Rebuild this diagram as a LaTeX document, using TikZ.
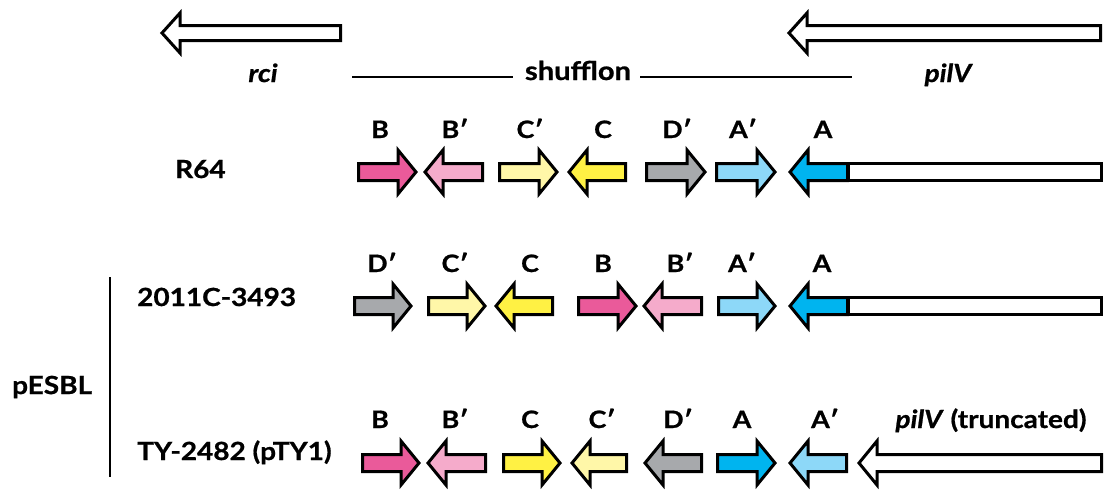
\documentclass[tikz,border=0pt]{standalone}
\usepackage{fontspec}
\setmainfont{Lato}[FakeStretch=1.12,BoldFeatures={FakeBold=0.8},BoldItalicFeatures={FakeBold=0.8}]
\begin{document}
\begin{tikzpicture}[x=1pt,y=-1pt,
  genestyle/.style={draw=black,line width=3pt,line join=miter,miter limit=10},
  seglabel/.style={anchor=base,inner sep=0pt,font=\fontsize{24}{28}\selectfont\bfseries},
  namelabel/.style={anchor=base west,inner sep=0pt,font=\fontsize{25}{30}\selectfont\bfseries},
  genename/.style={anchor=base,inner sep=0pt,font=\fontsize{25}{30}\selectfont\bfseries\itshape},
  bracketline/.style={line width=2pt}]

\definecolor{segB}{HTML}{EA5A9A}
\definecolor{segBp}{HTML}{F5ABCB}
\definecolor{segC}{HTML}{FFF144}
\definecolor{segCp}{HTML}{FFF7A8}
\definecolor{segD}{HTML}{A7A9AC}
\definecolor{segA}{HTML}{00B4EF}
\definecolor{segAp}{HTML}{8DD8F8}

% fill, y, tail x (outer), tip x (outer), head half-height, body half-height
\newcommand\genearrow[6]{%
  \pgfmathsetmacro\gdir{sign(#4-#3)}%
  \pgfmathsetmacro\gtail{#3+1.5*\gdir}%
  \pgfmathsetmacro\gtip{#4-2*\gdir}%
  \pgfmathsetmacro\gbase{\gtip-18*\gdir}%
  \draw[genestyle,fill=#1]
    (\gtail,{#2-#6}) -- (\gbase,{#2-#6}) -- (\gbase,{#2-#5}) -- (\gtip,#2)
    -- (\gbase,{#2+#5}) -- (\gbase,{#2+#6}) -- (\gtail,{#2+#6}) -- cycle;}
\newcommand\seg[4]{\genearrow{#1}{#2}{#3}{#4}{22}{8.5}}

\useasboundingbox (0,0) rectangle (1107,496);

% top: rci and pilV genes
\genearrow{white}{33}{342}{160}{20}{7.5}
\genearrow{white}{33}{1102}{787}{20}{7.5}
\node[genename] (rci) at (263,82) {rci};
\node[genename] (pilV) at (948,82) {pilV};
\node[anchor=base,inner sep=0pt,font=\fontsize{26}{30}\selectfont\bfseries] (shufflon) at (578,80) {shufflon};
\coordinate (shl) at (352,77);
\coordinate (shlend) at (513,77);
\coordinate (shrstart) at (640,77);
\coordinate (shr) at (852,77);
\draw[bracketline] (shl) -- (shlend);
\draw[bracketline] (shrstart) -- (shr);

% R64
\node[namelabel] (r64) at (175,178) {R64};
\seg{segB}{172}{357}{418}
\seg{segBp}{172}{484}{423}
\seg{segCp}{172}{498}{559}
\seg{segC}{172}{627}{567}
\seg{segD}{172}{645}{707}
\seg{segAp}{172}{715}{777}
\draw[genestyle,fill=white] (848,{172-8.5}) rectangle (1101.5,{172+8.5});
\seg{segA}{172}{849}{788}
\foreach \t/\x [count=\i] in {B/380,B′/455,C′/530,C/603,D′/677,A′/743,A/823}
  \node[seglabel] (ra\i) at (\x,138) {\t};

% 2011C-3493
\node[namelabel] (c2011) at (137,306) {2011C-3493};
\seg{segD}{306}{353}{413}
\seg{segCp}{306}{427}{487}
\seg{segC}{306}{554}{494}
\seg{segB}{306}{577}{638}
\seg{segBp}{306}{703}{642}
\seg{segAp}{306}{717}{777}
\draw[genestyle,fill=white] (848,{306-8.5}) rectangle (1101.5,{306+8.5});
\seg{segA}{306}{849}{788}
\foreach \t/\x [count=\i] in {D′/382,C′/455,C/530,B/603,B′/680,A′/742,A/822}
  \node[seglabel] (rb\i) at (\x,272) {\t};

% TY-2482 (pTY1)
\node[namelabel] (ty) at (137,460) {TY-2482 (pTY1)};
\seg{segB}{463}{361}{421}
\seg{segBp}{463}{487}{426}
\seg{segC}{463}{502}{562}
\seg{segCp}{463}{628}{570}
\seg{segD}{463}{703}{643}
\seg{segA}{463}{716}{777}
\seg{segAp}{463}{848}{788}
\seg{white}{463}{1103}{857}
\foreach \t/\x [count=\i] in {B/380,B′/455,C/530,C′/602,D′/678,A/742,A′/825}
  \node[seglabel] (rc\i) at (\x,428) {\t};
\node[anchor=base,inner sep=0pt,font=\fontsize{25}{30}\selectfont\bfseries] (trunc) at (991,428) {\textit{pilV} (truncated)};

% pESBL group
\node[anchor=west,inner sep=0pt,font=\fontsize{25}{30}\selectfont\bfseries] (pesbl) at (12,387) {pESBL};
\coordinate (gtop) at (110,277);
\coordinate (gbot) at (110,477);
\draw[bracketline] (gtop) -- (gbot);
\end{tikzpicture}
\end{document}
